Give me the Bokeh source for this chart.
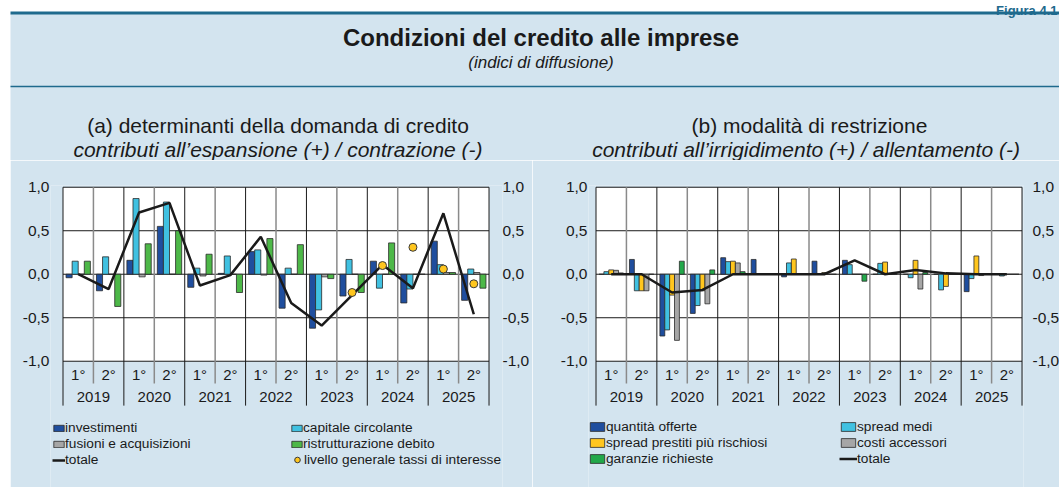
import math
from bokeh.plotting import figure
from bokeh.models import Range1d, LinearAxis, FixedTicker, BoxAnnotation, Legend, LegendItem, Spacer
from bokeh.layouts import column, row
from bokeh.core.properties import value
from bokeh.embed import file_html
from bokeh.resources import INLINE

NaN = float("nan")

# ---------------- data ----------------
years = ["2019", "2020", "2021", "2022", "2023", "2024", "2025"]
halves = ["1°", "2°"]

# (a) determinanti della domanda di credito
investimenti = [-0.04, -0.19, 0.16, 0.55, -0.15, 0.01, 0.26, -0.39, -0.62, -0.25, 0.15, -0.33, 0.38, -0.30]
capitale_circolante = [0.15, 0.20, 0.87, 0.83, 0.07, 0.21, 0.28, 0.07, -0.41, 0.17, -0.16, -0.17, 0.11, 0.06]
fusioni_acquisizioni = [0.0, 0.0, -0.03, 0.0, -0.02, 0.0, -0.01, 0.0, -0.03, 0.0, 0.0, 0.0, 0.02, 0.02]
ristrutturazione_debito = [0.15, -0.37, 0.35, 0.50, 0.23, -0.21, 0.41, 0.34, -0.05, -0.21, 0.36, 0.0, 0.02, -0.16]
totale_a = [0.0, -0.17, 0.71, 0.82, -0.13, -0.01, 0.43, -0.33, -0.59, -0.24, 0.11, -0.16, 0.70, -0.46]
livello_tassi = [NaN, NaN, NaN, NaN, NaN, NaN, NaN, NaN, NaN, -0.21, 0.10, 0.31, 0.06, -0.11]

# (b) modalità di restrizione
quantita_offerte = [0.0, 0.17, -0.71, -0.45, 0.19, 0.17, -0.03, 0.15, 0.16, 0.0, 0.0, 0.0, -0.20, 0.0]
spread_medi = [0.03, -0.19, -0.64, -0.36, 0.145, 0.0, 0.13, 0.0, 0.11, 0.125, -0.04, -0.18, -0.05, -0.02]
spread_rischiosi = [0.05, -0.19, -0.24, -0.19, 0.15, 0.0, 0.175, 0.02, 0.0, 0.14, 0.16, -0.14, 0.21, 0.0]
costi_accessori = [0.045, -0.19, -0.76, -0.34, 0.13, 0.0, 0.0, 0.0, 0.0, 0.0, -0.17, 0.0, -0.015, 0.0]
garanzie_richieste = [0.015, 0.0, 0.15, 0.05, 0.03, 0.0, 0.0, 0.0, -0.08, 0.0, 0.02, 0.0, 0.0, 0.0]
totale_b = [0.0, 0.0, -0.21, -0.18, 0.0, 0.0, 0.0, 0.0, 0.16, 0.0, 0.05, 0.01, 0.0, 0.0]

y_ticks = [-1.0, -0.5, 0.0, 0.5, 1.0]
y_tick_labels = {-1.0: "-1,0", -0.5: "-0,5", 0.0: "0,0", 0.5: "0,5", 1.0: "1,0"}

# ---------------- style ----------------
BG = "#D3E4EF"
TEAL = "#1E6A8D"
FONT = "Liberation Sans"
TXT = "#1a1a1a"
BLUE = "#1F4E9E"
CYAN = "#40C1E1"
GRAY = "#A6A6A6"
GREEN_A = "#4DB848"
GREEN_B = "#22A84A"
YELLOW = "#FFC61E"
EDGE = "#2a2a2a"
LEG_FONT = "13.7px"

N = len(years) * len(halves)
TOTAL_W = 1059
HH = 160            # header height
CH = 487 - HH       # chart figure height
TOP = 25            # chart top border
S = 30.43           # px per half-year
PX_UNIT = 87.0      # px per 1.0 on the y axis
FRAME_H = CH - TOP
Y_TOP = 1.02
Y_BOT = Y_TOP - FRAME_H / PX_UNIT


def build_chart(series, names, colors, bar_w, offsets, total, fig_w, border_l, zero_px,
                frame_w, so_l, so_r, dots=None, dots_name=None):
    x_start = -zero_px / S
    x_end = x_start + frame_w / S
    p = figure(width=fig_w, height=CH, frame_width=frame_w, frame_height=FRAME_H,
               x_range=Range1d(x_start, x_end), y_range=Range1d(Y_BOT, Y_TOP),
               toolbar_location=None, output_backend="svg",
               x_axis_type=None, y_axis_type=None,
               min_border_left=border_l, min_border_right=fig_w - border_l - frame_w,
               min_border_top=TOP, min_border_bottom=0)
    p.background_fill_color = BG
    p.border_fill_color = BG
    p.outline_line_color = None

    p.add_layout(BoxAnnotation(left=0, right=N, bottom=-1.0, top=1.0, fill_color="white",
                               fill_alpha=1.0, line_color=None, level="image"))
    # horizontal grid lines at the y ticks
    p.segment(x0=[0] * len(y_ticks), x1=[N] * len(y_ticks), y0=y_ticks, y1=y_ticks,
              line_color=TXT, line_width=1)

    for side, so in (("left", so_l), ("right", so_r)):
        ax = LinearAxis(ticker=FixedTicker(ticks=y_ticks), major_label_overrides=y_tick_labels,
                        axis_line_color=None, major_tick_line_color=None,
                        minor_tick_line_color=None, major_tick_out=0, major_tick_in=0,
                        major_label_standoff=so, major_label_text_font=FONT,
                        major_label_text_font_size="15.5px", major_label_text_color=TXT)
        p.add_layout(ax, side)

    # category separators
    half_b = [2 * k + 1 for k in range(len(years))]
    year_b = [2 * k for k in range(len(years) + 1)]
    p.segment(x0=half_b, x1=half_b, y0=[1.0] * len(half_b), y1=[-1.256] * len(half_b),
              line_color="#8a8a8a", line_width=1.5)
    p.segment(x0=year_b, x1=year_b, y0=[1.0] * len(year_b), y1=[-1.51] * len(year_b),
              line_color=TXT, line_width=1)

    # category labels
    xs = [i + 0.5 for i in range(N)]
    p.text(x=xs, y=[-1.153] * N, text=[h for _ in years for h in halves],
           text_align="center", text_baseline="middle", text_font=value(FONT),
           text_font_size="15px", text_color=TXT)
    p.text(x=[2 * k + 1 for k in range(len(years))], y=[-1.414] * len(years), text=years,
           text_align="center", text_baseline="middle", text_font=value(FONT),
           text_font_size="15px", text_color=TXT)

    rends = []
    for k, vals in enumerate(series):
        r = p.vbar(x=[x + offsets[k] for x in xs], top=vals, bottom=0, width=bar_w,
                   fill_color=colors[k], line_color=EDGE, line_width=0.8)
        rends.append(r)
    rl = p.line(xs, total, line_color=TXT, line_width=2.5)
    rd = None
    if dots is not None:
        rd = p.scatter(xs, dots, size=8, fill_color=YELLOW, line_color="#3a3a3a", line_width=1)

    items = [LegendItem(label=names[k], renderers=[rends[k]]) for k in range(len(series))]
    items.append(LegendItem(label="totale", renderers=[rl]))
    dot_item = LegendItem(label=dots_name, renderers=[rd]) if rd is not None else None
    return p, items, dot_item


def legend(items, loc, gw, gh, lw):
    return Legend(items=items, ncols=2, orientation="horizontal", location=loc,
                  border_line_color=None, background_fill_alpha=0, padding=0, margin=0,
                  spacing=1, glyph_width=gw, glyph_height=gh, label_height=15, label_width=lw,
                  label_standoff=0, label_text_font=FONT, label_text_font_size=LEG_FONT,
                  label_text_color=TXT)


# left chart: figure spans x 10..530, frame 50..502, x=0 at 62.5
pa, items_a, dot_a = build_chart(
    [investimenti, capitale_circolante, fusioni_acquisizioni, ristrutturazione_debito],
    ["investimenti", "capitale circolante", "fusioni e acquisizioni", "ristrutturazione debito"],
    [BLUE, CYAN, GRAY, GREEN_A], 0.2, [-0.3, -0.1, 0.1, 0.3], totale_a,
    520, 40, 12.5, 452, 1, 0, dots=livello_tassi, dots_name="livello generale tassi di interesse")
pa.add_layout(legend(items_a, (2, 20), 13, 8, 224), "center")
pa.add_layout(Legend(items=[dot_a], location=(240, 20), border_line_color=None,
                     background_fill_alpha=0, padding=0, margin=0, glyph_width=14,
                     glyph_height=15, label_height=15, label_standoff=0,
                     label_text_font=FONT, label_text_font_size=LEG_FONT,
                     label_text_color=TXT), "center")

# right chart: figure spans x 530..1059, frame 586..1021, x=0 at 593.5
pb, items_b, _ = build_chart(
    [quantita_offerte, spread_medi, spread_rischiosi, costi_accessori, garanzie_richieste],
    ["quantità offerte", "spread medi", "spread prestiti più rischiosi", "costi accessori",
     "garanzie richieste"],
    [BLUE, CYAN, YELLOW, GRAY, GREEN_B], 0.16, [-0.32, -0.16, 0.0, 0.16, 0.32], totale_b,
    529, 56, 7.5, 435, 1, 9)
pb.add_layout(legend(items_b, (0, 21), 18, 11, 232), "center")

# ---------------- header ----------------
hdr = figure(width=TOTAL_W, height=HH, x_range=Range1d(0, TOTAL_W), y_range=Range1d(HH, 0),
             toolbar_location=None, output_backend="svg", x_axis_type=None, y_axis_type=None,
             min_border=0)
hdr.outline_line_color = None
hdr.background_fill_color = "white"
hdr.border_fill_color = "white"
hdr.quad(left=10, right=TOTAL_W, top=13, bottom=HH, fill_color=BG, line_color=None)
hdr.segment(x0=[10], y0=[12.5], x1=[TOTAL_W], y1=[12.5], line_color=TEAL, line_width=3)
hdr.segment(x0=[10], y0=[86], x1=[TOTAL_W], y1=[86], line_color=TEAL, line_width=1.5)
hdr.text(x=[1057], y=[10], text=["Figura 4.1"], text_align="right", text_baseline="alphabetic",
         text_font=value(FONT), text_font_size="13px", text_font_style="bold", text_color=TEAL)
hdr.text(x=[540.5], y=[37], text=["Condizioni del credito alle imprese"], text_align="center",
         text_baseline="middle", text_font=value(FONT), text_font_size="24px",
         text_font_style="bold", text_color=TXT)
hdr.text(x=[540.5], y=[62], text=["(indici di diffusione)"], text_align="center",
         text_baseline="middle", text_font=value(FONT), text_font_size="17px",
         text_font_style="italic", text_color=TXT)
hdr.text(x=[277.5, 809], y=[125, 125],
         text=["(a) determinanti della domanda di credito", "(b) modalità di restrizione"],
         text_align="center", text_baseline="middle", text_font=value(FONT),
         text_font_size="21px", text_color=TXT)
hdr.text(x=[277.5, 805.5], y=[149, 149],
         text=["contributi all\u2019espansione (+) / contrazione (-)",
               "contributi all\u2019irrigidimento (+) / allentamento (-)"],
         text_align="center", text_baseline="middle", text_font=value(FONT),
         text_font_size="21px", text_font_style="italic", text_color=TXT)

layout = column(hdr, row(Spacer(width=10, height=CH), pa, pb, spacing=0), spacing=0)
open("out.html", "w").write(file_html(layout, INLINE))
